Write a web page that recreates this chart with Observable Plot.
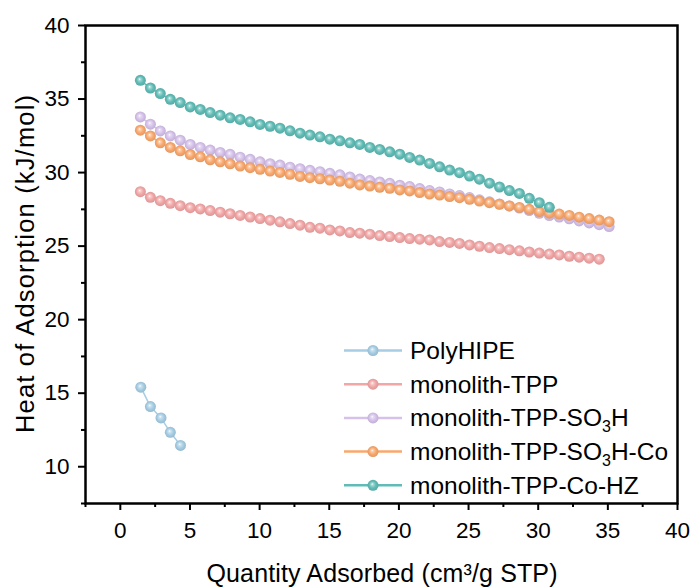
<!DOCTYPE html>
<html><head><meta charset="utf-8">
<script src="https://cdn.jsdelivr.net/npm/d3@7"></script>
<script src="https://cdn.jsdelivr.net/npm/@observablehq/plot@0.6"></script>
<style>body{margin:0;background:#fff}</style>
</head><body><div id="chart"></div>
<script>
// ---- data ----
const seriesNames = ["PolyHIPE", "monolith-TPP", "monolith-TPP-SO3H", "monolith-TPP-SO3H-Co", "monolith-TPP-Co-HZ"];
const seriesColors = ["#a6cde4", "#f2a6a6", "#d5c1ea", "#f9a86d", "#60bcb6"];

const xPolyHIPE = [1.47, 2.16, 2.92, 3.59, 4.32];
const yPolyHIPE = [15.41, 14.09, 13.32, 12.34, 11.45];

const xGrid = [1.44, 2.16, 2.87, 3.59, 4.30, 5.02, 5.74, 6.45, 7.17, 7.88, 8.60, 9.32, 10.03, 10.75, 11.46, 12.18,
  12.90, 13.61, 14.33, 15.04, 15.76, 16.48, 17.19, 17.91, 18.62, 19.34, 20.06, 20.77, 21.49, 22.20, 22.92, 23.64,
  24.35, 25.07, 25.78, 26.50, 27.22, 27.93, 28.65, 29.36, 30.08, 30.80, 31.51, 32.23, 32.94, 33.66, 34.38, 35.09];

const yTPP = [28.70, 28.32, 28.09, 27.91, 27.75, 27.61, 27.53, 27.42, 27.31, 27.20, 27.09, 26.98, 26.87, 26.76, 26.65, 26.53,
  26.42, 26.28, 26.22, 26.10, 26.03, 25.92, 25.88, 25.81, 25.72, 25.65, 25.58, 25.51, 25.47, 25.42, 25.31, 25.25,
  25.18, 25.08, 24.99, 24.90, 24.83, 24.76, 24.68, 24.60, 24.53, 24.46, 24.40, 24.31, 24.25, 24.18, 24.11];

const ySO3H = [33.78, 33.29, 32.83, 32.49, 32.20, 31.91, 31.71, 31.53, 31.37, 31.24, 31.05, 30.90, 30.73, 30.60, 30.51, 30.37,
  30.26, 30.15, 30.06, 29.95, 29.85, 29.70, 29.56, 29.46, 29.36, 29.27, 29.14, 29.05, 28.91, 28.78, 28.68, 28.55,
  28.44, 28.30, 28.15, 28.01, 27.87, 27.73, 27.59, 27.42, 27.23, 27.08, 26.98, 26.86, 26.71, 26.58, 26.46, 26.33];

const ySO3HCo = [32.88, 32.49, 32.02, 31.71, 31.48, 31.23, 31.07, 30.87, 30.73, 30.60, 30.44, 30.33, 30.22, 30.10, 30.01, 29.88,
  29.74, 29.65, 29.58, 29.49, 29.41, 29.28, 29.16, 29.08, 29.00, 28.93, 28.82, 28.75, 28.64, 28.54, 28.47, 28.37,
  28.29, 28.18, 28.06, 27.95, 27.84, 27.73, 27.63, 27.50, 27.35, 27.24, 27.18, 27.09, 26.97, 26.87, 26.77, 26.66];

const yCoHZ = [36.27, 35.75, 35.37, 34.98, 34.76, 34.46, 34.29, 34.08, 33.90, 33.72, 33.61, 33.45, 33.27, 33.15, 33.02, 32.84,
  32.68, 32.55, 32.43, 32.27, 32.16, 32.02, 31.91, 31.71, 31.57, 31.41, 31.25, 31.03, 30.85, 30.62, 30.39, 30.17,
  29.99, 29.76, 29.55, 29.28, 29.02, 28.78, 28.58, 28.25, 27.95, 27.64];

const xTicks = [0, 5, 10, 15, 20, 25, 30, 35, 40];
const xMinorTicks = [-2.5, 2.5, 7.5, 12.5, 17.5, 22.5, 27.5, 32.5, 37.5];
const yTicks = [10, 15, 20, 25, 30, 35, 40];
const yMinorTicks = [7.5, 12.5, 17.5, 22.5, 27.5, 32.5, 37.5];
const xLabel = "Quantity Adsorbed (cm³/g STP)";
const yLabel = "Heat of Adsorption (kJ/mol)";

// ---- build rows ----
const seriesY = [yPolyHIPE, yTPP, ySO3H, ySO3HCo, yCoHZ];
const series = seriesNames.map((name, i) => {
  const ys = seriesY[i];
  const xs = i === 0 ? xPolyHIPE : xGrid;
  return ys.map((y, j) => ({series: name, x: xs[j], y}));
});
const gradId = (i) => `sphere${i}`;

const font = "'Liberation Sans', Arial, sans-serif";
const marks = [];
series.forEach((rows, i) => {
  marks.push(Plot.line(rows, {x: "x", y: "y", stroke: seriesColors[i], strokeWidth: 1.5}));
  marks.push(Plot.dot(rows, {x: "x", y: "y", r: 5.5, fill: `url(#${gradId(i)})`, stroke: "none"}));
});

const plot = Plot.plot({
  width: 693, height: 587,
  marginLeft: 85, marginRight: 16, marginTop: 25, marginBottom: 84,
  style: {fontFamily: font, fontSize: "22px", color: "#000", background: "#fff"},
  x: {domain: [-2.5, 40]},
  y: {domain: [7.5, 40]},
  marks: [
    ...marks,
    Plot.axisX({ticks: xMinorTicks, tickSize: 4, text: null, strokeWidth: 2, label: null}),
    Plot.axisX({ticks: xTicks, tickSize: 7, tickPadding: 12, strokeWidth: 2, fontSize: 22.5, label: null}),
    Plot.axisY({ticks: yMinorTicks, tickSize: 4, text: null, strokeWidth: 2, label: null}),
    Plot.axisY({ticks: yTicks, tickSize: 7, tickPadding: 9, strokeWidth: 2, fontSize: 22.5, label: null}),
    Plot.frame({stroke: "#000", strokeWidth: 2.5})
  ]
});

const svg = d3.select(plot);
// sphere gradients
const defs = svg.insert("defs", ":first-child");
seriesColors.forEach((c, i) => {
  const base = d3.color(c);
  const g = defs.append("radialGradient").attr("id", gradId(i))
    .attr("cx", "50%").attr("cy", "50%").attr("r", "55%").attr("fx", "42%").attr("fy", "38%");
  g.append("stop").attr("offset", "0%").attr("stop-color", "#ffffff");
  g.append("stop").attr("offset", "18%").attr("stop-color", d3.interpolateRgb(c, "#fff")(0.45));
  g.append("stop").attr("offset", "55%").attr("stop-color", c);
  g.append("stop").attr("offset", "100%").attr("stop-color", base.darker(0.35).formatHex());
});

// axis titles
svg.append("text").attr("x", 382).attr("y", 582).attr("text-anchor", "middle")
  .attr("font-size", 25).attr("font-family", font)
  .attr("textLength", 351).attr("lengthAdjust", "spacing")
  .text(xLabel);
svg.append("text").attr("transform", "translate(34,264) rotate(-90)").attr("text-anchor", "middle")
  .attr("font-size", 25.5).attr("font-family", font)
  .attr("textLength", 338).attr("lengthAdjust", "spacing")
  .text(yLabel);

// legend
const leg = svg.append("g").attr("font-family", font).attr("font-size", 24.5).attr("text-anchor", "start");
seriesNames.forEach((name, i) => {
  const y = 350.5 + i * 33.7;
  leg.append("line").attr("x1", 344).attr("x2", 402).attr("y1", y).attr("y2", y)
    .attr("stroke", seriesColors[i]).attr("stroke-width", 2.5);
  leg.append("circle").attr("cx", 373).attr("cy", y).attr("r", 5.5).attr("fill", `url(#${gradId(i)})`);
  const t = leg.append("text").attr("x", 410).attr("y", y).attr("dy", "0.35em");
  const parts = name.split("SO3");
  if (parts.length === 1) t.text(name);
  else {
    t.append("tspan").text(parts[0] + "SO");
    t.append("tspan").attr("font-size", 16).attr("dy", 6).text("3");
    t.append("tspan").attr("dy", -6).text(parts[1]);
  }
});

document.getElementById("chart").appendChild(plot);
</script>
</body></html>
